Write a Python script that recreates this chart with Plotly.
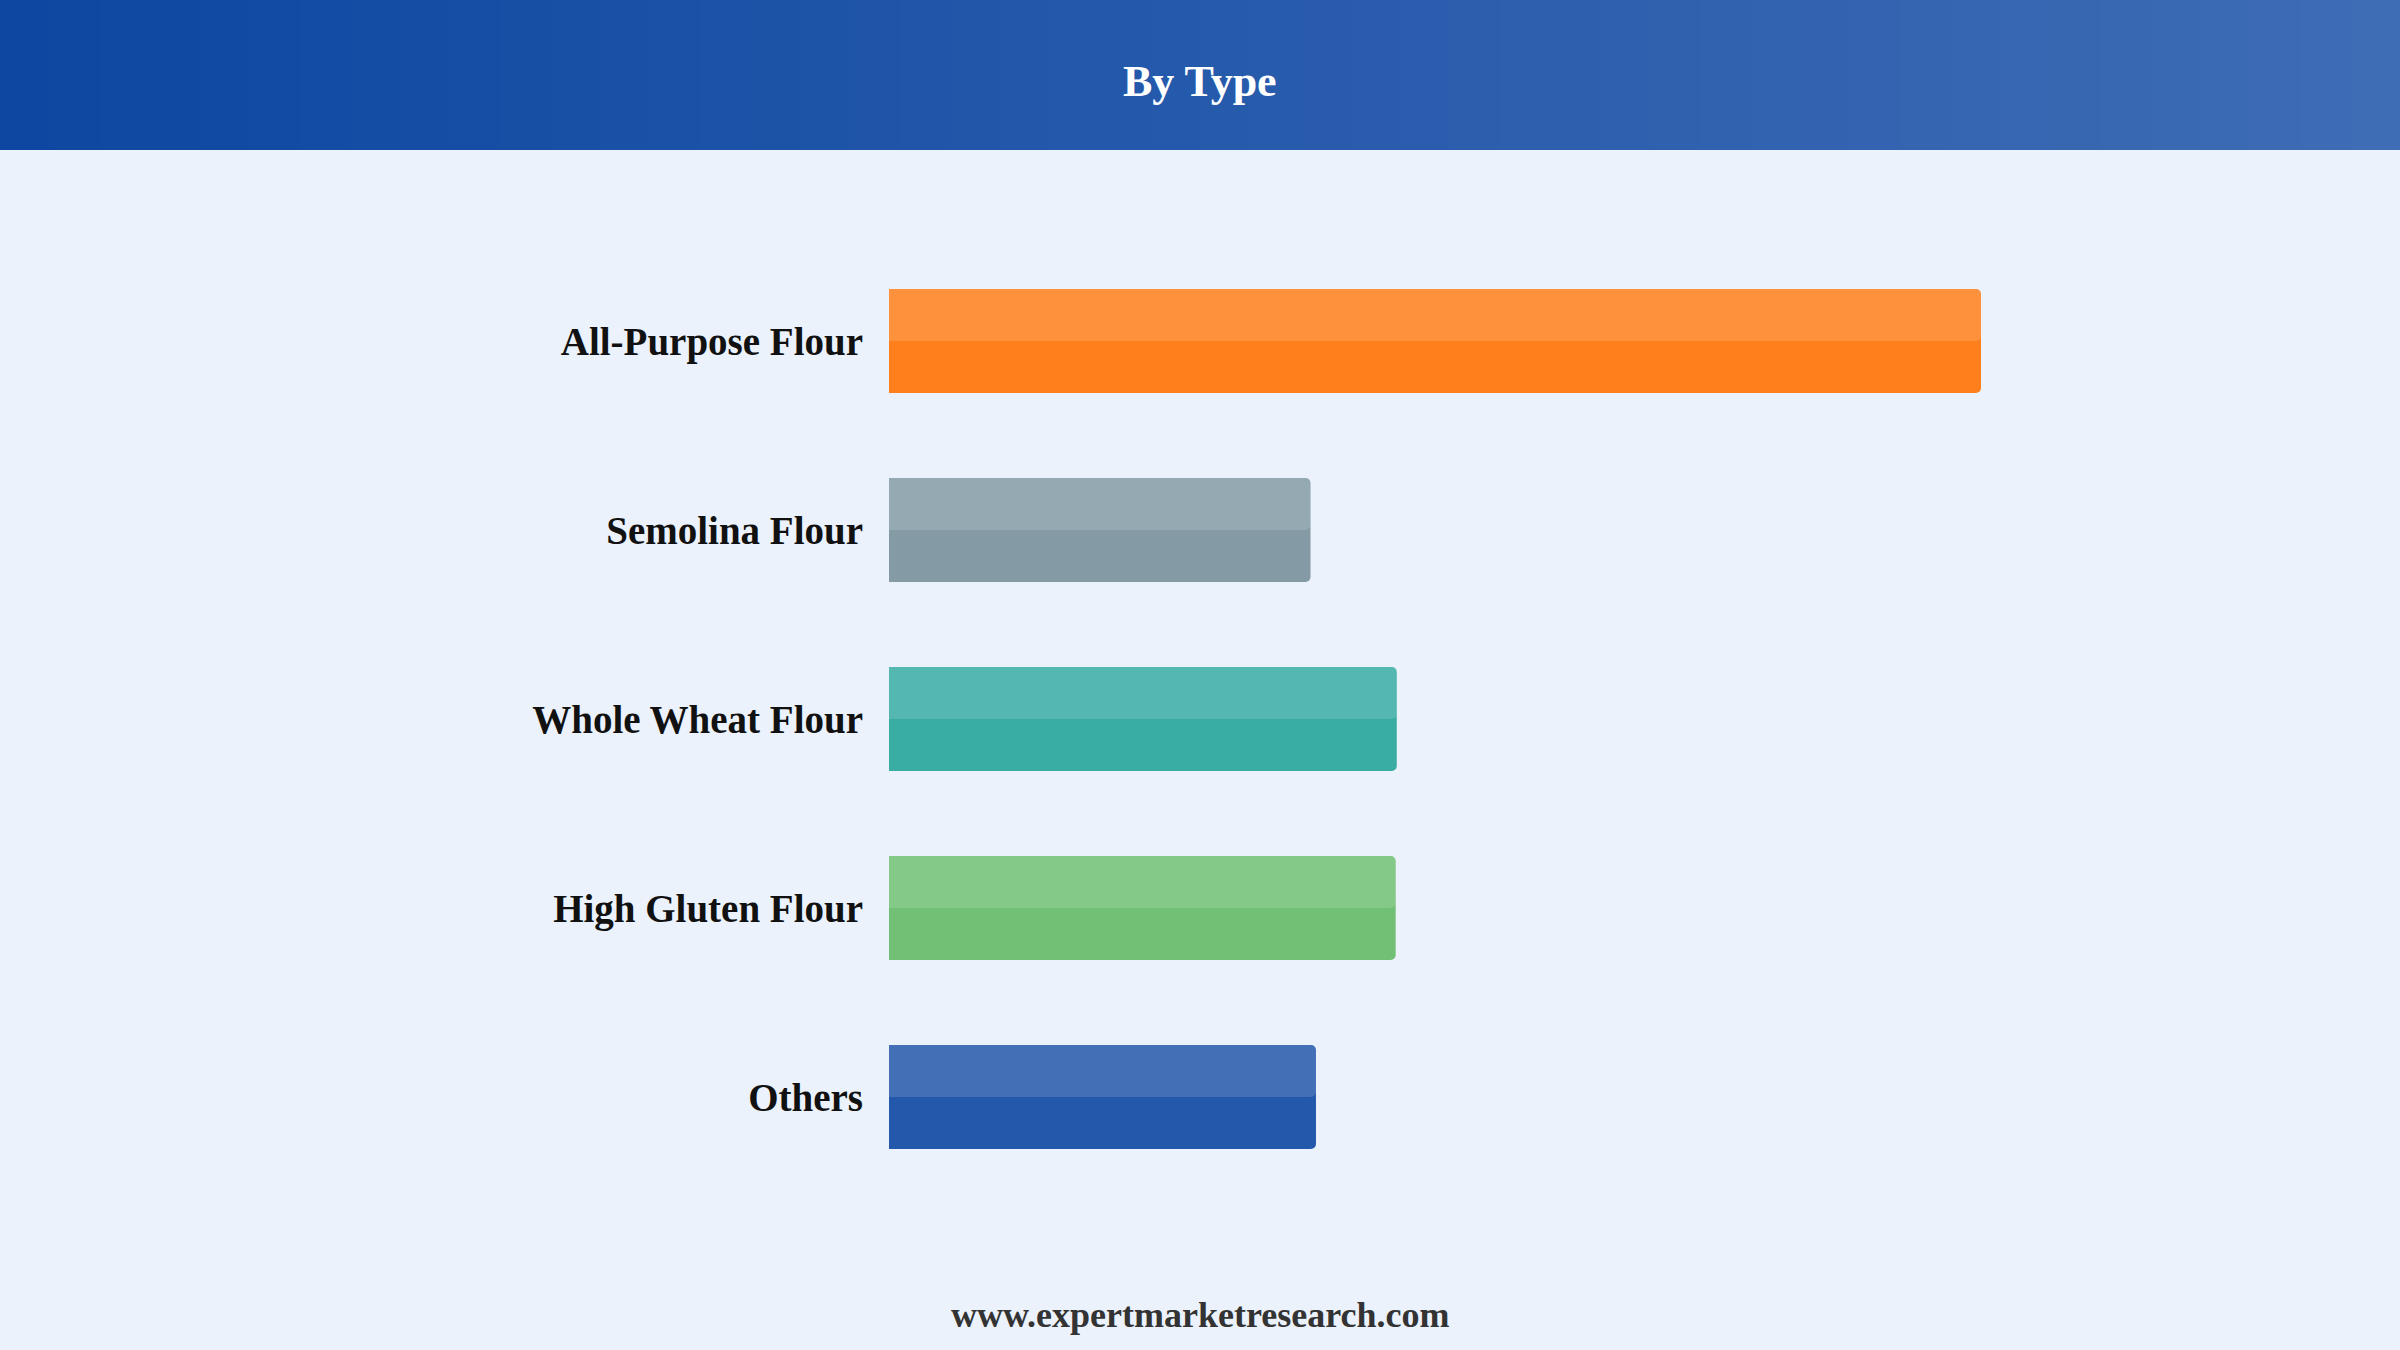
import plotly.graph_objects as go

# ---- data ----
categories = ["All-Purpose Flour", "Semolina Flour", "Whole Wheat Flour", "High Gluten Flour", "Others"]
values = [100, 38.6, 46.5, 46.4, 39.1]
bar_colors = ["#FE7F1B", "#849BA6", "#39ADA3", "#72C076", "#2358AB"]
title_text = "By Type"
footer_text = "www.expertmarketresearch.com"

W, H = 2400, 1350
SERIF = "Liberation Serif, Times New Roman, serif"

fig = go.Figure()
fig.add_trace(go.Bar(
    x=values, y=categories, orientation="h",
    marker=dict(color=bar_colors, line=dict(width=0), cornerradius=5),
    width=0.55, hoverinfo="skip", showlegend=False,
))
# lighter upper half of each bar
fig.add_trace(go.Bar(
    x=values, y=categories, orientation="h",
    marker=dict(color="rgba(255,255,255,0.14)", line=dict(width=0), cornerradius=5),
    width=0.275, offset=-0.275, hoverinfo="skip", showlegend=False,
))

# header gradient strips
left = (13, 71, 161)
right = (62, 108, 181)
n = 48
shapes = []
for i in range(n):
    t = i / (n - 1)
    c = tuple(round(left[k] + (right[k] - left[k]) * t) for k in range(3))
    shapes.append(dict(type="rect", xref="paper", yref="paper",
                       x0=i / n, x1=(i + 1) / n + 0.001,
                       y0=1 - 150 / H, y1=1,
                       fillcolor="rgb(%d,%d,%d)" % c, line=dict(width=0), layer="below"))

fig.update_layout(
    width=W, height=H,
    margin=dict(l=0, r=0, t=0, b=0),
    paper_bgcolor="#EBF2FC", plot_bgcolor="rgba(0,0,0,0)",
    barmode="overlay",
    shapes=shapes,
    xaxis=dict(domain=[889 / W, 1981 / W], range=[0, 100], visible=False),
    yaxis=dict(type="category", range=[4.5, -0.5],
               domain=[1 - 1191.5 / H, 1 - 246.5 / H],
               showgrid=False, zeroline=False, showline=False,
               ticks="", ticklabelstandoff=25,
               tickfont=dict(family=SERIF, size=39, color="#111111", weight="bold")),
    annotations=[
        dict(text=title_text, x=0.5, y=1 - 81 / H, xref="paper", yref="paper",
             xanchor="center", yanchor="middle", showarrow=False,
             font=dict(family=SERIF, size=44, color="white", weight="bold")),
        dict(text=footer_text, x=0.5, y=1 - 1315 / H, xref="paper", yref="paper",
             xanchor="center", yanchor="middle", showarrow=False,
             font=dict(family=SERIF, size=36, color="#333333", weight="bold")),
    ],
)

fig.write_html("out.html", config={"displayModeBar": False},
               post_script="document.body.style.margin='0';document.body.style.overflow='hidden';")
